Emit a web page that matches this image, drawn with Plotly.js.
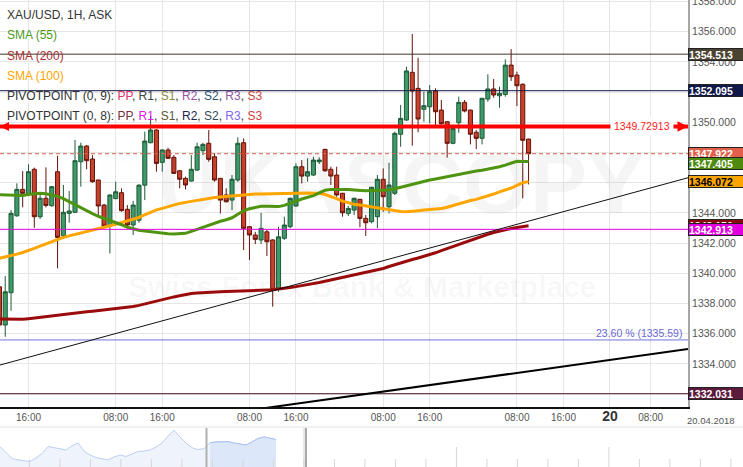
<!DOCTYPE html>
<html><head><meta charset="utf-8">
<script src="https://cdn.plot.ly/plotly-3.0.1.min.js"></script>
<style>html,body{margin:0;padding:0;background:#fff;}#chart{width:743px;height:467px;}</style>
</head><body><div id="chart"></div>
<script>
// ---------- DATA ----------
const openP = [1339.11,1336.58,1338.72,1343.81,1345.56,1345.25,1346.89,1343.75,1344.97,1344.48,
1346.73,1342.49,1343.97,1344.04,1347.39,1348.43,1347.57,1346.18,1344.52,1343.13,
1344.95,1345.34,1344.24,1343.2,1343.52,1345.84,1348.65,1349.49,1347.35,1348.17,
1347.68,1346.79,1346.29,1346.11,1346.84,1348.12,1348.61,1347.72,1346.29,1345.19,
1344.85,1346.18,1348.65,1343.09,1342.54,1342.21,1342.75,1342.21,1339.0,1342.32,
1343.09,1344.46,1347.06,1346.44,1346.51,1347.39,1348.21,1346.89,1346.51,1345.30,
1343.97,1344.19,1344.90,1343.64,1343.42,1343.75,1346.23,1344.41,1345.30,1349.21,
1350.15,1353.31,1352.25,1350.86,1351.03,1352.07,1350.81,1350.04,1348.61,1349.97,
1351.32,1350.81,1349.34,1348.94,1351.54,1352.21,1351.76,1351.85,1353.79,1353.13,
1352.52,1348.89];
const highP = [1339.56,1339.82,1344.19,1345.96,1346.77,1347.22,1347.00,1345.19,1347.02,1345.78,
1347.79,1345.85,1345.45,1348.83,1348.65,1348.50,1347.83,1346.20,1344.60,1345.22,
1346.07,1345.63,1344.52,1344.80,1345.90,1349.38,1350.42,1349.54,1348.20,1348.32,
1347.83,1346.84,1346.40,1347.83,1348.65,1348.65,1349.49,1347.95,1346.32,1345.63,
1346.51,1349.01,1348.94,1343.12,1342.75,1344.01,1342.87,1342.25,1343.09,1343.75,
1345.00,1347.28,1347.50,1347.62,1347.72,1347.68,1348.24,1347.06,1347.06,1345.33,
1344.46,1345.00,1344.93,1343.86,1345.72,1346.51,1346.95,1347.32,1349.38,1351.15,
1353.68,1355.85,1354.28,1352.03,1352.47,1352.25,1351.48,1350.09,1349.65,1351.70,
1351.48,1350.84,1349.49,1351.62,1353.18,1352.87,1352.36,1354.17,1354.85,1353.35,
1352.58,1348.92];
const lowP = [1333.48,1335.80,1337.52,1343.75,1344.37,1345.12,1343.02,1343.60,1344.37,1344.41,
1340.33,1342.32,1343.35,1344.01,1345.74,1346.89,1346.00,1343.86,1342.98,1341.32,
1344.90,1344.08,1343.13,1342.54,1343.35,1344.85,1348.61,1346.73,1346.73,1347.57,
1346.58,1345.63,1345.56,1346.08,1346.77,1347.83,1347.39,1346.07,1343.97,1344.70,
1344.19,1346.07,1341.54,1340.88,1341.94,1341.94,1341.15,1337.79,1338.78,1342.21,
1342.98,1344.43,1345.96,1346.07,1346.44,1347.24,1346.73,1345.85,1345.07,1343.75,
1343.80,1343.86,1343.05,1342.47,1343.31,1342.98,1344.08,1343.97,1345.19,1348.38,
1350.09,1348.45,1349.34,1350.04,1349.93,1349.82,1349.71,1347.66,1348.55,1349.31,
1350.66,1348.54,1348.23,1348.54,1351.36,1351.63,1350.97,1351.70,1352.74,1351.08,
1344.97,1345.89];
const closeP = [1336.58,1338.78,1343.97,1345.56,1345.30,1346.73,1343.75,1344.97,1344.50,1345.74,
1342.38,1344.04,1344.13,1347.46,1348.43,1347.46,1346.07,1344.46,1343.13,1345.19,
1345.40,1344.15,1343.20,1344.52,1345.84,1348.76,1349.49,1347.28,1348.17,1347.62,
1346.62,1346.23,1345.85,1346.89,1348.38,1348.54,1347.55,1346.18,1344.85,1344.74,
1346.23,1348.61,1342.98,1342.54,1342.25,1342.98,1342.09,1338.89,1342.42,1343.20,
1344.97,1347.06,1346.44,1346.73,1347.50,1347.50,1346.79,1346.44,1345.19,1344.01,
1344.30,1344.97,1343.64,1343.35,1345.70,1346.23,1345.07,1345.85,1349.27,1350.26,
1353.40,1352.07,1350.22,1351.10,1352.03,1350.70,1349.91,1348.61,1349.60,1351.32,
1350.75,1349.21,1348.94,1351.59,1352.21,1351.81,1351.92,1353.79,1353.02,1352.42,
1348.81,1347.922];
const sma55 = [1345.2,1345.18,1345.15,1345.13,1345.15,1345.22,1345.28,1345.3,1345.27,1345.2,
1345.1,1344.95,1344.75,1344.5,1344.3,1344.1,1343.95,1343.78,1343.65,1343.5,
1343.35,1343.22,1343.05,1342.93,1342.85,1342.8,1342.75,1342.72,1342.68,1342.62,
1342.6,1342.62,1342.65,1342.78,1342.92,1343.05,1343.2,1343.33,1343.45,1343.55,
1343.68,1343.92,1344.15,1344.28,1344.36,1344.44,1344.45,1344.43,1344.42,1344.5,
1344.62,1344.78,1344.92,1345.04,1345.15,1345.33,1345.5,1345.56,1345.57,1345.56,
1345.55,1345.52,1345.49,1345.47,1345.48,1345.5,1345.51,1345.52,1345.6,1345.7,
1345.82,1345.93,1346.0,1346.1,1346.18,1346.25,1346.33,1346.42,1346.5,1346.58,
1346.66,1346.73,1346.78,1346.83,1346.89,1346.97,1347.06,1347.17,1347.3,1347.42,
1347.41,1347.405];
const sma100 = [1341.0,1341.08,1341.17,1341.27,1341.38,1341.5,1341.65,1341.8,1341.95,1342.1,
1342.25,1342.38,1342.48,1342.57,1342.65,1342.75,1342.85,1342.96,1343.05,1343.15,
1343.25,1343.35,1343.45,1343.55,1343.7,1343.88,1344.05,1344.2,1344.3,1344.42,
1344.55,1344.63,1344.7,1344.77,1344.85,1344.92,1344.97,1345.02,1345.06,1345.1,
1345.13,1345.17,1345.2,1345.24,1345.26,1345.26,1345.27,1345.28,1345.3,1345.31,
1345.32,1345.33,1345.33,1345.32,1345.31,1345.3,1345.22,1345.1,1344.95,1344.78,
1344.66,1344.58,1344.52,1344.46,1344.4,1344.32,1344.24,1344.19,1344.15,1344.1,
1344.08,1344.1,1344.15,1344.19,1344.22,1344.26,1344.3,1344.38,1344.5,1344.62,
1344.72,1344.82,1344.9,1345.0,1345.12,1345.25,1345.4,1345.52,1345.65,1345.82,
1346.0,1346.072];
const sma200 = [1336.97,1336.96,1336.96,1336.95,1336.96,1337.0,1337.05,1337.09,1337.13,1337.18,
1337.23,1337.28,1337.32,1337.37,1337.41,1337.45,1337.49,1337.53,1337.57,1337.62,
1337.67,1337.71,1337.75,1337.8,1337.88,1337.98,1338.07,1338.16,1338.26,1338.35,
1338.44,1338.52,1338.6,1338.66,1338.7,1338.73,1338.75,1338.77,1338.78,1338.79,
1338.8,1338.81,1338.83,1338.85,1338.87,1338.88,1338.9,1338.92,1338.95,1339.0,
1339.06,1339.12,1339.18,1339.25,1339.32,1339.4,1339.48,1339.56,1339.64,1339.72,
1339.8,1339.88,1339.96,1340.04,1340.12,1340.2,1340.32,1340.45,1340.58,1340.7,
1340.82,1340.92,1341.02,1341.12,1341.22,1341.36,1341.5,1341.64,1341.78,1341.92,
1342.06,1342.2,1342.34,1342.47,1342.59,1342.7,1342.8,1342.89,1342.97,1343.04,
1343.1,1343.15];

const tickIdx = [5, 20, 28, 43, 51, 66, 74, 89, 97, 105, 112];
const tickLabels = ['16:00','08:00','16:00','08:00','16:00','08:00','16:00','08:00','16:00','20','08:00'];
const dateLabel = '20.04.2018';

const levelValues = [1354.513, 1352.095, 1342.913, 1332.031];
const redLevel = 1349.72913;
const fibPct = 23.60;
const fibLevel = 1335.59;
const trendThinX = [0.1, 118.42];
const trendThinY = [1333.93, 1346.33];
const trendThickX = [45.7, 118.42];
const trendThickY = [1331.08, 1334.99];

const navValues = [1345.2,1340.5,1336.4,1335.3,1334.9,1334.1,1336.8,1340.1,1345.4,1344.6,
1343.5,1342.8,1345.8,1348.0,1342.0,1339.0,1337.1,1336.0,1335.3,1337.5,
1339.0,1337.9,1339.8,1341.6,1342.0,1342.8,1345.0,1348.0,1353.3,1357.5,
1352.5,1348.0,1344.5,1343.0,1343.8,1348.2,1348.8,1348.8,1349.0,1348.0,
1347.3,1346.5,1348.8,1351.4,1352.5,1351.4,1350.6];

// ---------- GEOMETRY ----------
const W = 743, H = 467, plotW = 688, plotH = 407;
const X0 = 0.1, X1 = 118.42, Y0 = 1331.15, Y1 = 1358.1;
const yDomBottom = (H - plotH) / H;
const px = p => p / plotW;
const py = p => (H - p) / H;
const FONT = 'Liberation Sans, Arial, sans-serif';

const idx = openP.map((_, i) => i);
const traces = [];

// watermark (behind candles)
traces.push({type:'scatter', mode:'text', x:[63.7], y:[1345.4],
  text:['<b><span style="fill:rgba(225,20,20,0.06)">D</span>UKASCOPY</b>'],
  textfont:{family:'Liberation Sans Narrow, Liberation Sans, sans-serif', size:86, color:'rgba(0,0,0,0.04)'},
  hoverinfo:'skip', showlegend:false, cliponaxis:false});
traces.push({type:'scatter', mode:'text', x:[62.4], y:[1338.9], text:['<b>Swiss Forex Bank &amp; Marketplace</b>'],
  textfont:{family:FONT, size:30, color:'rgba(0,0,0,0.035)'},
  hoverinfo:'skip', showlegend:false});

traces.push({type:'candlestick', x:idx, open:openP, high:highP, low:lowP, close:closeP,
  increasing:{line:{color:'#1d5a37', width:1}, fillcolor:'#3f9a6a'},
  decreasing:{line:{color:'#651308', width:1}, fillcolor:'#c8412d'},
  whiskerwidth:0, hoverinfo:'none', showlegend:false});

traces.push({type:'scatter', mode:'lines', x:idx, y:sma200, line:{color:'#9a0c0c', width:3}, hoverinfo:'skip', showlegend:false});
traces.push({type:'scatter', mode:'lines', x:idx, y:sma100, line:{color:'#ffa500', width:3}, hoverinfo:'skip', showlegend:false});
traces.push({type:'scatter', mode:'lines', x:idx, y:sma55, line:{color:'#4e9410', width:3}, hoverinfo:'skip', showlegend:false});

// navigator
const navIdx = navValues.map((_, i) => i);
traces.push({type:'scatter', mode:'lines', x:navIdx, y:navValues, xaxis:'x2', yaxis:'y2',
  fill:'tozeroy', fillcolor:'#eef3fc', line:{color:'#bcd0f2', width:1}, hoverinfo:'skip', showlegend:false});
const selStart = 35;
traces.push({type:'scatter', mode:'lines', x:navIdx.slice(selStart), y:navValues.slice(selStart), xaxis:'x2', yaxis:'y2',
  fill:'tozeroy', fillcolor:'#dce7fa', line:{color:'#a9c2ee', width:1}, hoverinfo:'skip', showlegend:false});

// ---------- SHAPES ----------
const shapes = [];
const levelColors = ['#3e3628', '#10184a', '#e600e6', '#4a1830'];
levelValues.forEach((v, k) => shapes.push({type:'line', xref:'paper', x0:0, x1:1, yref:'y', y0:v, y1:v, line:{color:levelColors[k], width:1}}));
shapes.push({type:'line', xref:'paper', x0:0, x1:1, yref:'y', y0:fibLevel, y1:fibLevel, line:{color:'#7272dc', width:1}});
shapes.push({type:'line', xref:'paper', x0:0, x1:1, yref:'y', y0:closeP[closeP.length-1], y1:closeP[closeP.length-1], line:{color:'#d9604a', width:1, dash:'4px,3px'}});
shapes.push({type:'line', xref:'paper', x0:0, x1:1, yref:'y', y0:redLevel, y1:redLevel, line:{color:'#ff0000', width:4}});
shapes.push({type:'line', xref:'x', yref:'y', x0:trendThinX[0], x1:trendThinX[1], y0:trendThinY[0], y1:trendThinY[1], line:{color:'#111', width:1}});
shapes.push({type:'line', xref:'x', yref:'y', x0:trendThickX[0], x1:trendThickX[1], y0:trendThickY[0], y1:trendThickY[1], line:{color:'#000', width:2}});
// navigator decorations
shapes.push({type:'line', xref:'paper', yref:'paper', x0:0, x1:W/plotW, y0:py(427), y1:py(427), line:{color:'#e2e2e2', width:1}});
for (let k = 0; k < 24; k++) {
  const xp = 29.4 + 30.5 * k;
  const tall = (Math.abs(xp - 455) < 3 || Math.abs(xp - 607) < 3);
  shapes.push({type:'line', xref:'paper', yref:'paper', x0:px(xp), x1:px(xp), y0:py(tall ? 447 : 459), y1:py(467), line:{color:'#d6d6d6', width:1}});
}
shapes.push({type:'line', xref:'paper', yref:'paper', x0:px(206.5), x1:px(206.5), y0:py(428), y1:py(467), line:{color:'#b0b0b0', width:2}});
shapes.push({type:'line', xref:'paper', yref:'paper', x0:px(304), x1:px(304), y0:py(428), y1:py(467), line:{color:'#d0d0d0', width:1}});
shapes.push({type:'line', xref:'paper', yref:'paper', x0:px(306), x1:px(306), y0:py(428), y1:py(467), line:{color:'#8c8c8c', width:1.5}});

// ---------- ANNOTATIONS ----------
const ann = [];
const legend = [
  ['XAU/USD, 1H, ASK', '#333', 15],
  ['SMA (55)', '#4e9a1a', 35],
  ['SMA (200)', '#a83232', 56],
  ['SMA (100)', '#ffa500', 76],
  ['PIVOTPOINT (0, 9): <span style="color:#e8336e">PP</span>, <span style="color:#444">R1</span>, <span style="color:#8b8b3a">S1</span>, <span style="color:#9b4fa0">R2</span>, <span style="color:#2f4f6f">S2</span>, <span style="color:#8e5aa0">R3</span>, <span style="color:#cc4444">S3</span>', '#333', 96],
  ['PIVOTPOINT (0, 8): <span style="color:#7a3040">PP</span>, <span style="color:#e020e0">R1</span>, <span style="color:#5a5a3a">S1</span>, <span style="color:#1a2550">R2</span>, <span style="color:#34495e">S2</span>, <span style="color:#7b6cf0">R3</span>, <span style="color:#d04040">S3</span>', '#333', 116]
];
legend.forEach(l => ann.push({xref:'paper', yref:'paper', x:px(5), y:py(l[2]), xanchor:'left', yanchor:'middle', showarrow:false, text:l[0], font:{family:FONT, size:12, color:l[1]}}));

// right value boxes
const boxes = [
  [levelValues[0], '#4b4332', '#fff', 0],
  [levelValues[1], '#0f1848', '#fff', 0],
  [closeP[closeP.length-1], '#e2604a', '#fff', 0],
  [sma55[sma55.length-1], '#4e8a0e', '#fff', -1.5],
  [sma100[sma100.length-1], '#ffa500', '#000', 0],
  [sma200[sma200.length-1], '#8b0a0a', '#fff', 0],
  [levelValues[2], '#e000e0', '#fff', 0],
  [levelValues[3], '#5c1a3c', '#fff', 0]
];
boxes.forEach(b => ann.push({xref:'paper', yref:'y', x:1, y:b[0], yshift:b[3], xanchor:'left', yanchor:'middle', showarrow:false,
  text:'<b>' + b[0].toFixed(3) + '</b>', font:{family:FONT, size:10.5, color:b[2]}, bgcolor:b[1], bordercolor:'#222', borderwidth:1, borderpad:0,
  width:56, height:11, align:'left'}));

// red level text and arrows
ann.push({xref:'x', yref:'y', x:110.5, y:redLevel, showarrow:false, text:String(redLevel), font:{family:FONT, size:10.5, color:'#ff1a1a'}, bgcolor:'#fff', borderpad:3});
ann.push({xref:'x', yref:'y', x:X1, y:redLevel, ax:-12, ay:0, showarrow:true, arrowhead:2, arrowsize:0.7, arrowwidth:3, arrowcolor:'#ff0000', text:''});
ann.push({xref:'x', yref:'y', x:X0, y:redLevel, ax:10, ay:0, showarrow:true, arrowhead:2, arrowsize:0.6, arrowwidth:3, arrowcolor:'#ff0000', text:''});
// fib label
ann.push({xref:'paper', yref:'y', x:px(684), y:fibLevel, xanchor:'right', yanchor:'bottom', yshift:-1, showarrow:false,
  text:fibPct.toFixed(2) + ' % (' + fibLevel + ')', font:{family:FONT, size:10.5, color:'#6767d9'}});
// date label
ann.push({xref:'paper', yref:'paper', x:px(711), y:py(420), xanchor:'center', yanchor:'middle', showarrow:false, text:dateLabel, font:{family:FONT, size:9.5, color:'#555'}});

const tickText = tickLabels.map(t => t.indexOf(':') < 0 ? '<b><span style="font-size:14px;color:#333">' + t + '</span></b>' : t);

const layout = {
  width: W, height: H,
  margin: {l:0, r:W - plotW, t:0, b:0, pad:0},
  paper_bgcolor:'#fff', plot_bgcolor:'#fff',
  showlegend:false,
  boxgap:0.3, boxgroupgap:0,
  font:{family:FONT},
  xaxis:{domain:[0,1], anchor:'y', range:[X0, X1], tickmode:'array', tickvals:tickIdx, ticktext:tickText,
    showgrid:true, gridcolor:'#e6e6e6', gridwidth:1, showline:true, linecolor:'#111', linewidth:1.5,
    ticks:'', tickfont:{family:FONT, size:10, color:'#555'}, zeroline:false, rangeslider:{visible:false}, fixedrange:true},
  yaxis:{domain:[yDomBottom, 1], anchor:'x', range:[Y0, Y1], side:'right', tick0:1330, dtick:2, tickformat:'.3f',
    showgrid:true, gridcolor:'#e6e6e6', gridwidth:1, showline:true, linecolor:'#a6a6a6', linewidth:2,
    ticks:'', tickfont:{family:FONT, size:10.5, color:'#555'}, zeroline:false, fixedrange:true, ticklabeloverflow:'allow'},
  xaxis2:{domain:[0,1], anchor:'y2', range:[0, plotW/6], visible:false, fixedrange:true},
  yaxis2:{domain:[0, (H-427)/H], anchor:'x2', range:[1330, 1360], visible:false, fixedrange:true},
  shapes: shapes,
  annotations: ann
};

Plotly.newPlot('chart', traces, layout, {displayModeBar:false, staticPlot:true});
</script>
</body></html>
